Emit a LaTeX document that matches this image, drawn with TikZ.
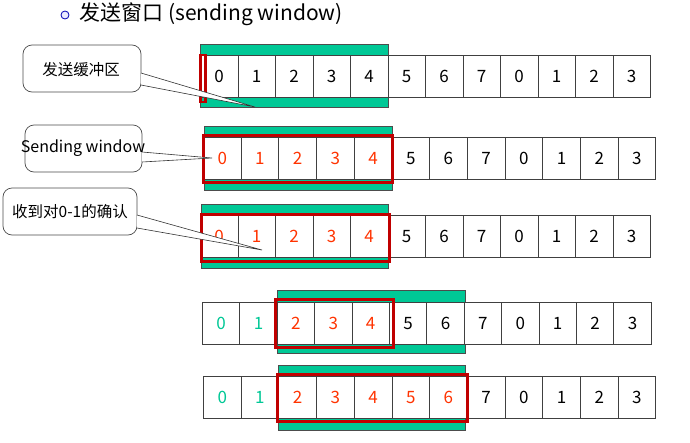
\documentclass[tikz,border=0pt]{standalone}
\usepackage{fontspec}
\setmainfont{Noto Sans CJK SC}
\begin{document}
\begin{tikzpicture}[x=1pt,y=-1pt,
  cell/.style={draw=black!75,line width=0.8pt,fill=white,minimum width=37.5pt,minimum height=42pt,inner sep=0pt,anchor=north west,font=\fontsize{17}{17}\selectfont},
  band/.style={fill=green1,draw=black!70,line width=0.6pt},
  win/.style={draw=red1,line width=3pt},
  callout/.style={draw=black!70,rounded corners=9pt,line width=0.7pt,fill=white},
  ptr/.style={fill=white,draw=black!80,line width=0.6pt}]
\definecolor{green1}{HTML}{00C896}
\definecolor{red1}{HTML}{C00000}
\definecolor{red2}{HTML}{FF3300}
\useasboundingbox (0,0) rectangle (690,442);
% title
\node[circle,draw=blue!70!black,fill=blue!8,line width=0.8pt,minimum size=8pt,inner sep=0pt] (bul) at (65,15) {};
\node[anchor=west,font=\fontsize{21}{21}\selectfont] (title) at (76,14) {发送窗口 (sending window)};
\newcommand\myrow[5]{%
  \foreach \t/\c [count=\i from 0] in {#4} {
    \node[cell,minimum width=#3pt,text=\c] (#5\i) at ({#2+\i*#3},#1) {\t};
  }}
% bands
\draw[band] (200,44) rectangle (388,107) ;
\draw[band] (204,126) rectangle (392,190);
\draw[band] (201,204) rectangle (388,268);
\draw[band] (277,290) rectangle (465,353);
\draw[band] (278,365) rectangle (465,430);
\myrow{55}{200}{37.5}{0/black,1/black,2/black,3/black,4/black,5/black,6/black,7/black,0/black,1/black,2/black,3/black}{a}
\myrow{137}{203}{37.7}{0/red2,1/red2,2/red2,3/red2,4/red2,5/black,6/black,7/black,0/black,1/black,2/black,3/black}{b}
\myrow{215}{200}{37.5}{0/red2,1/red2,2/red2,3/red2,4/red2,5/black,6/black,7/black,0/black,1/black,2/black,3/black}{c}
\myrow{302}{202}{37.4}{0/green1,1/green1,2/red2,3/red2,4/red2,5/black,6/black,7/black,0/black,1/black,2/black,3/black}{d}
\myrow{376}{203}{37.7}{0/green1,1/green1,2/red2,3/red2,4/red2,5/red2,6/red2,7/black,0/black,1/black,2/black,3/black}{e}
% windows
\draw[win,line width=2.5pt] (200.5,55) rectangle (205.5,102);
\draw[win] (203,135) rectangle (392,182);
\draw[win] (201,214) rectangle (389,261);
\draw[win] (275,299) rectangle (393,347);
\draw[win] (277,374) rectangle (467,421);
% callouts
\node[callout,minimum width=118pt,minimum height=47pt] (k1) at (82,68.5) {};
\coordinate (p1) at (255,107);
\draw[ptr] (141,73) -- (p1) -- (141,85);
\node[font=\fontsize{15.5}{15.5}\selectfont] (t1) at (81,70) {发送缓冲区};
\node[callout,minimum width=117pt,minimum height=47pt] (k2) at (83.5,148.5) {};
\coordinate (p2) at (212,158);
\draw[ptr] (142,152) -- (p2) -- (142,162);
\node[font=\fontsize{16}{16}\selectfont] (t2) at (83,148) {Sending window};
\node[callout,minimum width=134pt,minimum height=47pt] (k3) at (70,211.5) {};
\coordinate (p3) at (262,250);
\draw[ptr] (137,215) -- (p3) -- (137,228);
\node[font=\fontsize{15.5}{15.5}\selectfont] (t3) at (70,212) {收到对0-1的确认};
\end{tikzpicture}
\end{document}
